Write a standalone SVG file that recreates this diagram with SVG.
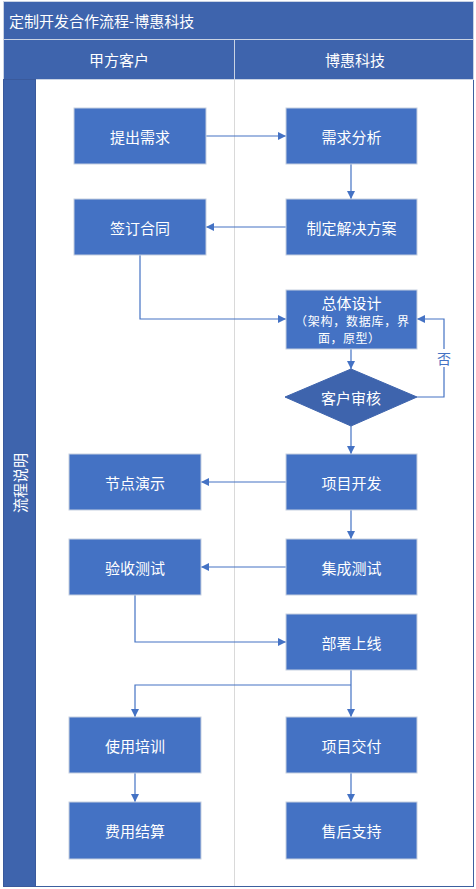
<svg xmlns="http://www.w3.org/2000/svg" width="476" height="889" viewBox="0 0 476 889">
<defs>
<marker id="ah" markerWidth="8" markerHeight="8" refX="8" refY="4" orient="auto" markerUnits="userSpaceOnUse">
<path d="M0,0 L8,4 L0,8 Z" fill="#4472c4"/>
</marker>
<style>
text{font-family:"Noto Sans CJK SC","Microsoft YaHei",sans-serif;fill:#fff;}
.box{fill:#4472c4;stroke:#c5cfe0;stroke-width:1;}
.lbl{font-size:15px;text-anchor:middle;dominant-baseline:central;}
.sub{font-size:12px;text-anchor:middle;dominant-baseline:central;}
.con{fill:none;stroke:#4472c4;stroke-width:1.2;marker-end:url(#ah);}
</style>
</defs>
<rect x="0" y="0" width="476" height="889" fill="#fff"/>
<g id="frame">
<rect x="3.5" y="1.5" width="470" height="885" fill="#fff" stroke="#3c5f9f" stroke-width="1"/>
<rect x="3.5" y="1.5" width="470" height="38" fill="#3e64ad" stroke="#c9d3e4" stroke-width="1"/>
<text x="9" y="20.5" font-size="15" dominant-baseline="central">定制开发合作流程-博惠科技</text>
<rect x="3.5" y="39.5" width="231" height="40" fill="#3e64ad" stroke="#c9d3e4" stroke-width="1"/>
<rect x="234.5" y="39.5" width="239" height="40" fill="#3e64ad" stroke="#c9d3e4" stroke-width="1"/>
<text x="119" y="59.5" class="lbl">甲方客户</text>
<text x="355" y="59.5" class="lbl">博惠科技</text>
<rect x="3.5" y="79.5" width="32" height="807" fill="#3e64ad" stroke="#3a5a9c" stroke-width="1"/>
<text transform="translate(19.5,483) rotate(-90)" font-size="15" text-anchor="middle" dominant-baseline="central">流程说明</text>
<line x1="234.5" y1="80" x2="234.5" y2="886" stroke="#d9d9d9" stroke-width="1"/>
</g>
<g id="connectors">
<line class="con" x1="206" y1="136" x2="286" y2="136"/>
<line class="con" x1="351" y1="164" x2="351" y2="199"/>
<line class="con" x1="286" y1="227" x2="206" y2="227"/>
<polyline class="con" points="140,255 140,319 286,319"/>
<line class="con" x1="351" y1="349" x2="351" y2="369"/>
<polyline class="con" points="417,397 444,397 444,319 417,319"/>
<line class="con" x1="351" y1="426" x2="351" y2="454"/>
<line class="con" x1="286" y1="482" x2="201" y2="482"/>
<line class="con" x1="351" y1="510" x2="351" y2="539"/>
<line class="con" x1="286" y1="567" x2="201" y2="567"/>
<polyline class="con" points="135,595 135,642 286,642"/>
<line class="con" x1="351" y1="670" x2="351" y2="717"/>
<polyline class="con" points="351,685 135,685 135,717"/>
<line class="con" x1="135" y1="773" x2="135" y2="802"/>
<line class="con" x1="351" y1="773" x2="351" y2="802"/>
<rect x="437" y="349" width="14" height="18" fill="#fff"/>
<text x="444" y="358" font-size="14" text-anchor="middle" dominant-baseline="central" style="fill:#4472c4">否</text>
</g>
<g id="n1"><rect class="box" x="74" y="108" width="132" height="56"/><text class="lbl" x="140" y="136">提出需求</text></g>
<g id="n2"><rect class="box" x="286" y="108" width="131" height="56"/><text class="lbl" x="351.5" y="136">需求分析</text></g>
<g id="n3"><rect class="box" x="74" y="199" width="132" height="56"/><text class="lbl" x="140" y="227">签订合同</text></g>
<g id="n4"><rect class="box" x="286" y="199" width="131" height="56"/><text class="lbl" x="351.5" y="227">制定解决方案</text></g>
<g id="n5"><rect class="box" x="286" y="290" width="131" height="59"/>
<text class="lbl" x="351.5" y="302">总体设计</text>
<text class="sub" x="352" y="320" textLength="114" lengthAdjust="spacing">（架构，数据库，界</text>
<text class="sub" x="349" y="337" textLength="62" lengthAdjust="spacing">面，原型）</text></g>
<g id="n6"><polygon points="351,369 417,397 351,426 285,397" fill="#3e64ad" stroke="#3e64ad"/><text class="lbl" x="351" y="397">客户审核</text></g>
<g id="n7"><rect class="box" x="69" y="454" width="132" height="56"/><text class="lbl" x="135" y="482">节点演示</text></g>
<g id="n8"><rect class="box" x="286" y="454" width="131" height="56"/><text class="lbl" x="351.5" y="482">项目开发</text></g>
<g id="n9"><rect class="box" x="69" y="539" width="132" height="56"/><text class="lbl" x="135" y="567">验收测试</text></g>
<g id="n10"><rect class="box" x="286" y="539" width="131" height="56"/><text class="lbl" x="351.5" y="567">集成测试</text></g>
<g id="n11"><rect class="box" x="286" y="614" width="131" height="56"/><text class="lbl" x="351.5" y="642">部署上线</text></g>
<g id="n12"><rect class="box" x="69" y="717" width="132" height="56"/><text class="lbl" x="135" y="745">使用培训</text></g>
<g id="n13"><rect class="box" x="286" y="717" width="131" height="56"/><text class="lbl" x="351.5" y="745">项目交付</text></g>
<g id="n14"><rect class="box" x="69" y="802" width="132" height="57"/><text class="lbl" x="135" y="830">费用结算</text></g>
<g id="n15"><rect class="box" x="286" y="802" width="131" height="57"/><text class="lbl" x="351.5" y="830">售后支持</text></g>
</svg>
